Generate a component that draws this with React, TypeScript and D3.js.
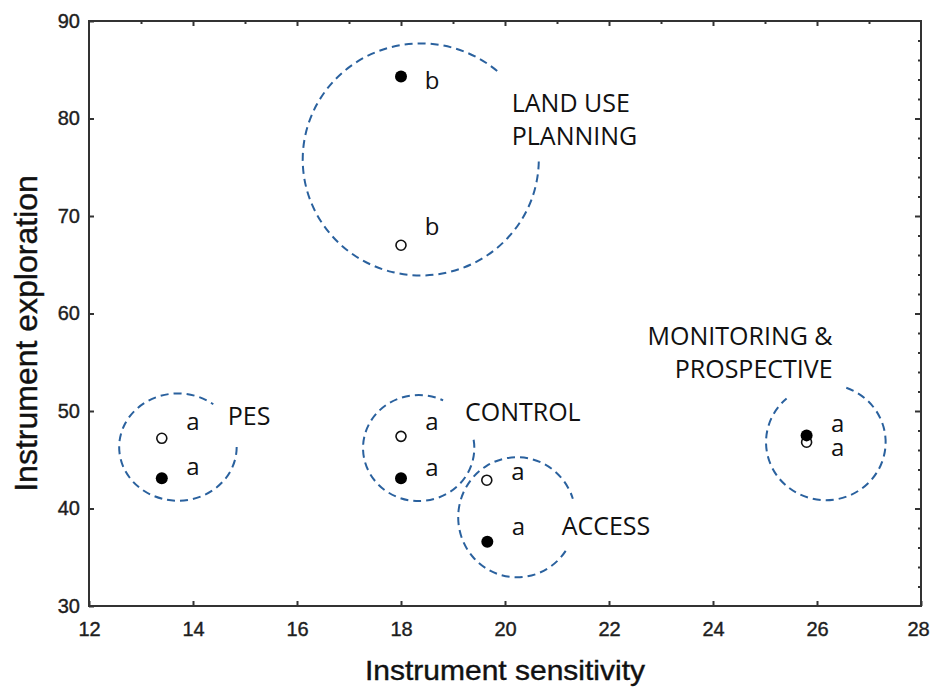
import React, { useEffect, useRef } from 'react';
import * as d3 from 'd3';

// treatment groups
const groups = ['PES', 'CONTROL', 'ACCESS', 'LAND USE PLANNING', 'MONITORING & PROSPECTIVE'];

// open circles
const openX = [13.4, 18.0, 19.65, 18.0, 25.8];
const openY = [47.2, 47.4, 42.9, 67.0, 46.8];
const openLetter = ['a', 'a', 'a', 'b', 'a'];

// filled circles
const filledX = [13.4, 18.0, 19.66, 18.0, 25.8];
const filledY = [43.1, 43.1, 36.6, 84.3, 47.5];
const filledLetter = ['a', 'a', 'a', 'b', 'a'];

// grouping ellipses (data units)
const ellipseCx = [13.71, 18.34, 20.23, 18.38, 26.17];
const ellipseCy = [46.3, 46.2, 39.1, 75.8, 46.8];
const ellipseRx = [1.13, 1.07, 1.13, 2.27, 1.15];
const ellipseRy = [5.5, 5.44, 6.16, 11.9, 5.95];

// group label lines and anchor (data units)
const labelLines = [['PES'], ['CONTROL'], ['ACCESS'], ['LAND USE', 'PLANNING'], ['MONITORING &', 'PROSPECTIVE']];
const labelX = [14.67, 19.23, 21.09, 20.13, 26.3];
const labelY = [48.55, 48.98, 37.25, 80.69, 56.75];

const xTicks = [12, 14, 16, 18, 20, 22, 24, 26, 28];
const yTicks = [30, 40, 50, 60, 70, 80, 90];

// layout bits
const arcFrom = [0, -9, 34, 1, -70];
const arcTo = [307, 296, 342, 311, 229];
const labelAnchor = ['start', 'start', 'start', 'start', 'end'];
const openDy = [-15, -13, -7, -17, 7];
const filledDy = [-10, -9, -14, 5, -10];

const W = 931;
const H = 691;
const margin = { top: 21, right: 10, bottom: 85, left: 89 };
const BLUE = '#2a619e';
const AXIS = '#333333';
const SANS = 'Liberation Sans, Arial, sans-serif';

const App: React.FC = () => {
  const svgRef = useRef<SVGSVGElement | null>(null);

  useEffect(() => {
    if (!svgRef.current) return;
    const svg = d3.select(svgRef.current);
    svg.selectAll('*').remove();

    const x = d3.scaleLinear().domain([12, 28]).range([margin.left, W - margin.right]);
    const y = d3.scaleLinear().domain([30, 90]).range([H - margin.bottom, margin.top]);

    // bottom axis
    const gx = svg.append('g')
      .attr('transform', `translate(0,${H - margin.bottom})`)
      .call(d3.axisBottom(x).tickValues(xTicks).tickSizeInner(-5).tickSizeOuter(0).tickPadding(16).tickFormat(d3.format('d')));
    gx.select('.domain').remove();
    gx.selectAll('line').attr('stroke', AXIS).attr('stroke-width', 2);
    gx.selectAll('text')
      .attr('font-family', SANS).attr('font-size', 20).attr('fill', '#1e1e1e')
      .attr('stroke', '#1e1e1e').attr('stroke-width', 0.4)
      .attr('dx', (d: any) => (d === 28 ? -3 : 0));

    // left axis
    const gy = svg.append('g')
      .attr('transform', `translate(${margin.left},0)`)
      .call(d3.axisLeft(y).tickValues(yTicks).tickSizeInner(-5).tickSizeOuter(0).tickPadding(9).tickFormat(d3.format('d')));
    gy.select('.domain').remove();
    gy.selectAll('line').attr('stroke', AXIS).attr('stroke-width', 2);
    gy.selectAll('text')
      .attr('font-family', SANS).attr('font-size', 20).attr('fill', '#1e1e1e')
      .attr('stroke', '#1e1e1e').attr('stroke-width', 0.4);

    // top axis (minor every 1, major every 2)
    const gt = svg.append('g')
      .attr('transform', `translate(0,${margin.top})`)
      .call(d3.axisTop(x).tickValues(d3.range(13, 28, 1)).tickSizeInner(-3).tickSizeOuter(0).tickFormat(() => ''));
    gt.select('.domain').remove();
    gt.selectAll('line').attr('stroke', AXIS).attr('stroke-width', 2)
      .attr('y2', (d: any) => (d % 2 === 0 ? 5 : 3));

    // right axis (minor every 2, major every 10)
    const gr = svg.append('g')
      .attr('transform', `translate(${W - margin.right},0)`)
      .call(d3.axisRight(y).tickValues(d3.range(32, 90, 2)).tickSizeInner(-3).tickSizeOuter(0).tickFormat(() => ''));
    gr.select('.domain').remove();
    gr.selectAll('line').attr('stroke', AXIS).attr('stroke-width', 2)
      .attr('x2', (d: any) => (d % 10 === 0 ? -6 : -3));

    // frame
    svg.append('rect')
      .attr('x', x(12)).attr('y', y(90))
      .attr('width', x(28) - x(12)).attr('height', y(30) - y(90))
      .attr('fill', 'none').attr('stroke', AXIS).attr('stroke-width', 2);

    // dashed ellipses with gaps for the labels
    groups.forEach((_, i) => {
      const cx = x(ellipseCx[i]);
      const cy = y(ellipseCy[i]);
      const rx = x(ellipseCx[i] + ellipseRx[i]) - cx;
      const ry = y(ellipseCy[i] - ellipseRy[i]) - cy;
      const a0 = (arcFrom[i] * Math.PI) / 180;
      const a1 = (arcTo[i] * Math.PI) / 180;
      const p0 = [cx + rx * Math.cos(a0), cy + ry * Math.sin(a0)];
      const p1 = [cx + rx * Math.cos(a1), cy + ry * Math.sin(a1)];
      const large = arcTo[i] - arcFrom[i] > 180 ? 1 : 0;
      svg.append('path')
        .attr('d', `M${p0[0]},${p0[1]} A${rx},${ry} 0 ${large} 1 ${p1[0]},${p1[1]}`)
        .attr('fill', 'none')
        .attr('stroke', BLUE)
        .attr('stroke-width', 2)
        .attr('stroke-dasharray', '8 5');
    });

    const labelFont = 'Open Sans, Noto Sans, sans-serif';

    // points + letters
    groups.forEach((_, i) => {
      svg.append('circle')
        .attr('cx', x(openX[i])).attr('cy', y(openY[i])).attr('r', 5)
        .attr('fill', '#fff').attr('stroke', '#111').attr('stroke-width', 1.6);
      svg.append('circle')
        .attr('cx', x(filledX[i])).attr('cy', y(filledY[i])).attr('r', 6)
        .attr('fill', '#000');

      svg.append('text')
        .attr('x', x(openX[i]) + 31).attr('y', y(openY[i]) + openDy[i] + 7)
        .attr('text-anchor', 'middle')
        .attr('font-family', labelFont).attr('font-size', 24).attr('fill', '#111')
        .text(openLetter[i]);
      svg.append('text')
        .attr('x', x(filledX[i]) + 31).attr('y', y(filledY[i]) + filledDy[i] + 7)
        .attr('text-anchor', 'middle')
        .attr('font-family', labelFont).attr('font-size', 24).attr('fill', '#111')
        .text(filledLetter[i]);
    });

    // group labels
    groups.forEach((_, i) => {
      const t = svg.append('text')
        .attr('x', x(labelX[i])).attr('y', y(labelY[i]))
        .attr('text-anchor', labelAnchor[i])
        .attr('font-family', labelFont).attr('font-size', 25).attr('fill', '#111');
      labelLines[i].forEach((line, j) => {
        t.append('tspan').attr('x', x(labelX[i])).attr('dy', j === 0 ? 0 : 33).text(line);
      });
    });

    // axis titles
    svg.append('text')
      .attr('x', (x(12) + x(28)) / 2).attr('y', 680)
      .attr('text-anchor', 'middle')
      .attr('font-family', SANS).attr('font-size', 28)
      .attr('textLength', 280).attr('lengthAdjust', 'spacingAndGlyphs')
      .attr('fill', '#111').attr('stroke', '#111').attr('stroke-width', 0.4)
      .text('Instrument sensitivity');

    svg.append('text')
      .attr('transform', `translate(37,${(y(30) + y(90)) / 2 + 20}) rotate(-90)`)
      .attr('text-anchor', 'middle')
      .attr('font-family', SANS).attr('font-size', 32)
      .attr('fill', '#111').attr('stroke', '#111').attr('stroke-width', 0.4)
      .text('Instrument exploration');
  }, []);

  return (
    <svg
      ref={svgRef}
      width={W}
      height={H}
      style={{ position: 'absolute', left: 0, top: 0, background: '#fff' }}
    />
  );
};

export default App;
